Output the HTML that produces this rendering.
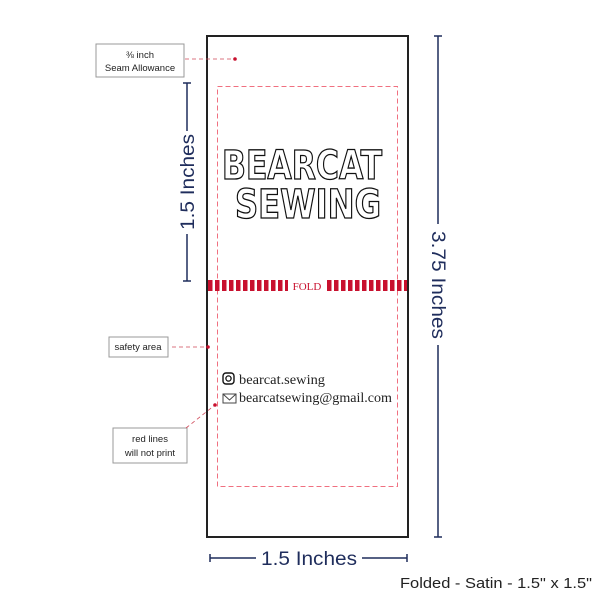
<!DOCTYPE html>
<html><head><style>html,body{margin:0;padding:0;background:#fff}svg{display:block}</style></head>
<body>
<svg width="600" height="600" xmlns="http://www.w3.org/2000/svg">
<defs>
<pattern id="st" x="207" y="0" width="7" height="20" patternUnits="userSpaceOnUse">
<rect x="1" y="0" width="4.5" height="20" fill="#c8102e"/>
</pattern>
</defs>
<rect width="600" height="600" fill="#fff"/>
<rect x="207" y="36" width="201" height="501" fill="#fff" stroke="#222" stroke-width="2"/>
<rect x="217.5" y="86.5" width="180" height="400" fill="none" stroke="#f07080" stroke-width="1" stroke-dasharray="5,3"/>
<rect x="208" y="280" width="80" height="11" fill="url(#st)"/>
<rect x="326" y="280" width="81" height="11" fill="url(#st)"/>
<text x="307" y="290" text-anchor="middle" font-family="Liberation Serif, serif" font-size="11" fill="#c8102e">FOLD</text>
<g font-family="DejaVu Sans Condensed, Liberation Sans, sans-serif" font-weight="bold" fill="#fff" stroke="#111" stroke-width="1.3" font-size="40">
<text x="222" y="179" textLength="160" lengthAdjust="spacingAndGlyphs">BEARCAT</text>
<text x="235" y="218" textLength="146" lengthAdjust="spacingAndGlyphs">SEWING</text>
</g>
<rect x="223" y="373" width="11" height="11" rx="3" fill="none" stroke="#111" stroke-width="1.4"/>
<circle cx="228.5" cy="378.5" r="2.6" fill="none" stroke="#111" stroke-width="1.3"/>
<rect x="223" y="394" width="13" height="9" fill="none" stroke="#444" stroke-width="1"/>
<polyline points="223,394 229.5,400 236,394" fill="none" stroke="#444" stroke-width="1"/>
<g font-family="Liberation Serif, serif" font-size="13.5" fill="#222">
<text x="239" y="384" textLength="86" lengthAdjust="spacingAndGlyphs">bearcat.sewing</text>
<text x="239" y="402" textLength="153" lengthAdjust="spacingAndGlyphs">bearcatsewing@gmail.com</text>
</g>
<g font-family="Liberation Sans, sans-serif" font-size="9.5" fill="#222" text-anchor="middle">
<rect x="96" y="44" width="88" height="33" fill="#fff" stroke="#999"/>
<text x="140" y="58">⅜ inch</text><text x="140" y="71">Seam Allowance</text>
<rect x="109" y="337" width="59" height="20" fill="#fff" stroke="#999"/>
<text x="138" y="350">safety area</text>
<rect x="113" y="428" width="74" height="35" fill="#fff" stroke="#999"/>
<text x="150" y="442">red lines</text><text x="150" y="456">will not print</text>
</g>
<g stroke="#d04a5a" stroke-width="0.8" stroke-dasharray="4,3" fill="none">
<line x1="185" y1="59" x2="235" y2="59"/>
<line x1="172" y1="347" x2="208" y2="347"/>
<line x1="186" y1="428" x2="215" y2="405"/>
</g>
<g fill="#c8102e"><circle cx="235" cy="59" r="1.8"/><circle cx="208" cy="347" r="1.8"/><circle cx="215" cy="405" r="1.8"/></g>
<g stroke="#1f2d5c" stroke-width="1.5" fill="none">
<line x1="187" y1="83" x2="187" y2="131"/><line x1="187" y1="234" x2="187" y2="281"/>
<line x1="183" y1="83" x2="191" y2="83"/><line x1="183" y1="281" x2="191" y2="281"/>
<line x1="438" y1="36" x2="438" y2="224"/><line x1="438" y1="345" x2="438" y2="537"/>
<line x1="434" y1="36" x2="442" y2="36"/><line x1="434" y1="537" x2="442" y2="537"/>
<line x1="210" y1="558" x2="256" y2="558"/><line x1="362" y1="558" x2="407" y2="558"/>
<line x1="210" y1="554" x2="210" y2="562"/><line x1="407" y1="554" x2="407" y2="562"/>
</g>
<g font-family="Liberation Sans, sans-serif" font-size="19" fill="#1f2d5c" text-anchor="middle">
<text transform="translate(194,182) rotate(-90)" textLength="96" lengthAdjust="spacingAndGlyphs">1.5 Inches</text>
<text transform="translate(432,285) rotate(90)" textLength="108" lengthAdjust="spacingAndGlyphs">3.75 Inches</text>
<text x="309" y="565" textLength="96" lengthAdjust="spacingAndGlyphs">1.5 Inches</text>
</g>
<text x="400" y="588" font-family="Liberation Sans, sans-serif" font-size="14.5" fill="#222" textLength="192" lengthAdjust="spacingAndGlyphs">Folded - Satin - 1.5" x 1.5"</text>
</svg>
</body></html>
